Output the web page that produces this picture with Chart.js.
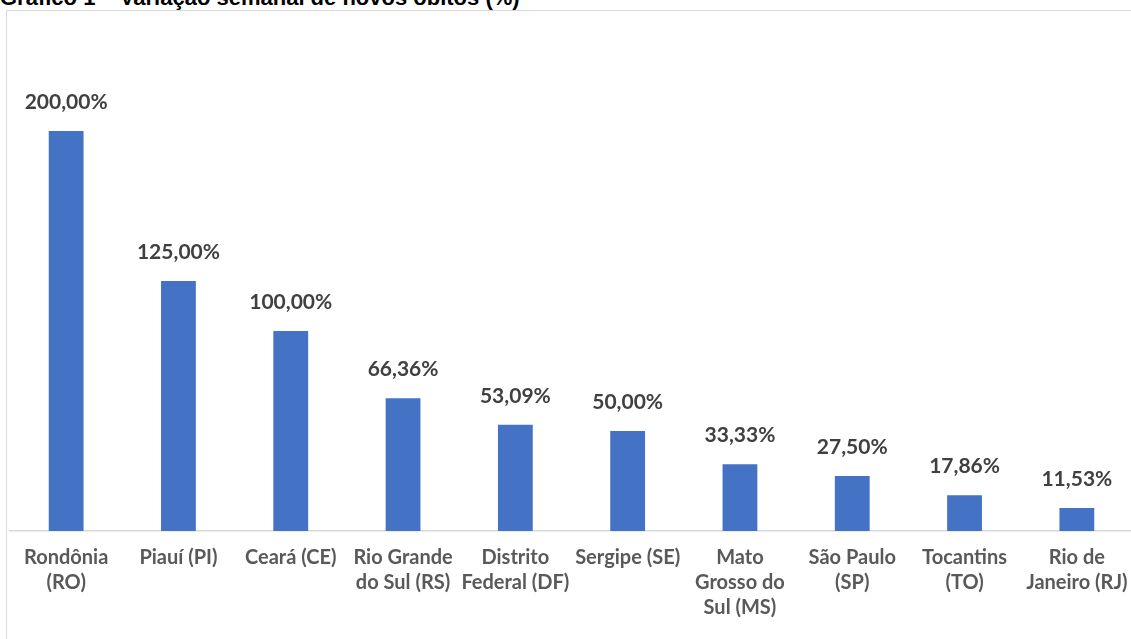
<!DOCTYPE html>
<html>
<head>
<meta charset="utf-8">
<script src="https://cdn.jsdelivr.net/npm/chart.js@4/dist/chart.umd.min.js"></script>
<style>
  body { margin: 0; width: 1131px; height: 639px; overflow: hidden; background: #fff; position: relative; }
  #titulo { position: absolute; left: 0; top: -13px; font: bold 22px "Liberation Sans", Arial, sans-serif; line-height: 22px; color: #000; white-space: nowrap; }
  #moldura { position: absolute; left: 6px; top: 10px; width: 1200px; height: 700px; border: 1px solid #d9d9d9; }
  #box { position: absolute; left: 0; top: 0; width: 1136px; height: 639px; }
</style>
</head>
<body>
<div id="titulo">Gráfico 1 – Variação semanal de novos óbitos (%)</div>
<div id="moldura"></div>
<div id="box"><canvas id="grafico"></canvas></div>
<script>
// estados (rótulos do eixo x, quebrados em linhas)
const estados = [
  ['Rondônia', '(RO)'],
  'Piauí (PI)',
  'Ceará (CE)',
  ['Rio Grande', 'do Sul (RS)'],
  ['Distrito', 'Federal (DF)'],
  'Sergipe (SE)',
  ['Mato', 'Grosso do', 'Sul (MS)'],
  ['São Paulo', '(SP)'],
  ['Tocantins', '(TO)'],
  ['Rio de', 'Janeiro (RJ)']
];

// variação semanal (%)
const variacao = [200.00, 125.00, 100.00, 66.36, 53.09, 50.00, 33.33, 27.50, 17.86, 11.53];

// rótulos de dados como aparecem no gráfico
const rotulos = ['200,00%', '125,00%', '100,00%', '66,36%', '53,09%', '50,00%', '33,33%', '27,50%', '17,86%', '11,53%'];

// desenha os valores acima das barras
const rotulosPlugin = {
  id: 'rotulos',
  afterDatasetsDraw(chart) {
    const ctx = chart.ctx;
    const meta = chart.getDatasetMeta(0);
    ctx.save();
    ctx.font = 'bold 21px Lato, "Open Sans", sans-serif';
    ctx.fillStyle = '#404040';
    ctx.textAlign = 'center';
    ctx.textBaseline = 'middle';
    meta.data.forEach(function (bar, i) {
      ctx.fillText(rotulos[i], bar.x, bar.y - 29);
    });
    ctx.restore();
  }
};

const ctx = document.getElementById('grafico');
new Chart(ctx, {
  type: 'bar',
  data: {
    labels: estados,
    datasets: [{
      data: variacao,
      backgroundColor: '#4472c4',
      borderWidth: 0,
      barPercentage: 0.62,
      categoryPercentage: 0.5
    }]
  },
  options: {
    responsive: true,
    maintainAspectRatio: false,
    animation: false,
    layout: { padding: { left: 10, right: 3, top: 31, bottom: 0 } },
    plugins: {
      legend: { display: false },
      tooltip: { enabled: false }
    },
    scales: {
      x: {
        grid: { display: false, drawTicks: false },
        border: { color: '#d9d9d9', width: 1.5 },
        ticks: {
          color: '#595959',
          font: { family: 'Lato, "Open Sans", sans-serif', size: 20, weight: 'bold', lineHeight: 1.25 },
          padding: 14,
          maxRotation: 0,
          autoSkip: false
        },
        afterFit: function (s) {
          s.height = 108;
          s.paddingLeft = 0;
          s.paddingRight = 0;
        }
      },
      y: {
        display: false,
        min: 0,
        max: 250
      }
    }
  },
  plugins: [rotulosPlugin]
});
</script>
</body>
</html>
